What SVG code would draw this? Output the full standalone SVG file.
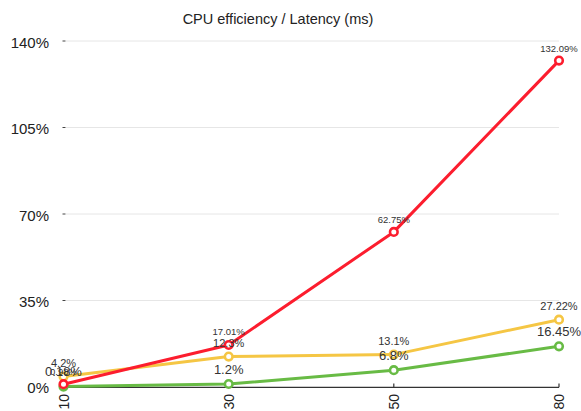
<svg xmlns="http://www.w3.org/2000/svg" width="581" height="411" viewBox="0 0 581 411">
  <style>
    text { font-family: "Liberation Sans", Arial, sans-serif; fill: #222; }
    .title { font-size: 14.5px; text-anchor: middle; }
    .ylab { font-size: 15px; text-anchor: end; }
    .xlab { font-size: 14px; text-anchor: end; }
    .grid { stroke: #e6e6e6; stroke-width: 1; }
    .ytick { stroke: #444; stroke-width: 1; }
    .axis { stroke: #333; stroke-width: 1.2; fill: none; }
    .line { fill: none; stroke-width: 3; stroke-linejoin: round; stroke-linecap: round; }
    .pt { fill: #fff; stroke-width: 2.6; }
    .red { stroke: #fc1d2e; }
    .yellow { stroke: #f5c644; }
    .green { stroke: #68bb45; }
    .lab { text-anchor: middle; fill: #333; }
    .lr { font-size: 9.5px; }
    .ly { font-size: 11px; }
    .lg { font-size: 13px; }
  </style>

  <text class="title" x="278" y="23.5">CPU efficiency / Latency (ms)</text>

  <!-- value axis -->
  <g id="y-axis">
    <line class="grid" x1="66" y1="41" x2="559" y2="41"/>
    <line class="grid" x1="66" y1="127.5" x2="559" y2="127.5"/>
    <line class="grid" x1="66" y1="214" x2="559" y2="214"/>
    <line class="grid" x1="66" y1="300.5" x2="559" y2="300.5"/>
    <line class="ytick" x1="62.5" y1="41" x2="65.5" y2="41"/>
    <line class="ytick" x1="62.5" y1="127.5" x2="65.5" y2="127.5"/>
    <line class="ytick" x1="62.5" y1="214" x2="65.5" y2="214"/>
    <line class="ytick" x1="62.5" y1="300.5" x2="65.5" y2="300.5"/>
    <text class="ylab" x="49" y="47.5">140%</text>
    <text class="ylab" x="49" y="134">105%</text>
    <text class="ylab" x="49" y="220.5">70%</text>
    <text class="ylab" x="49" y="307">35%</text>
    <text class="ylab" x="49" y="393">0%</text>
  </g>

  <!-- category axis -->
  <g id="x-axis">
    <path class="axis" d="M63.5 387.3 H559 M228.7 387.3 V383.5 M393.8 387.3 V383.5 M559 387.3 V383.5"/>
    <text class="xlab" transform="translate(68.5 394) rotate(-90)">10</text>
    <text class="xlab" transform="translate(233.7 394) rotate(-90)">30</text>
    <text class="xlab" transform="translate(398.8 394) rotate(-90)">50</text>
    <text class="xlab" transform="translate(564 394) rotate(-90)">80</text>
  </g>

  <!-- series -->
  <g id="connectors">
    <polyline class="line green" points="63.5,386.6 228.7,384 393.8,370.2 559,346.3"/>
    <polyline class="line yellow" points="63.5,376.6 228.7,356.6 393.8,354.6 559,319.7"/>
    <polyline class="line red" points="63.5,384.2 228.7,345 393.8,231.9 559,60.6"/>
  </g>

  <g id="series-green">
    <circle class="pt green" cx="63.5" cy="386.6" r="3.8"/>
    <circle class="pt green" cx="228.7" cy="384" r="3.8"/>
    <circle class="pt green" cx="393.8" cy="370.2" r="3.8"/>
    <circle class="pt green" cx="559" cy="346.3" r="3.8"/>
  </g>
  <g id="series-yellow">
    <circle class="pt yellow" cx="63.5" cy="376.6" r="3.8"/>
    <circle class="pt yellow" cx="228.7" cy="356.6" r="3.8"/>
    <circle class="pt yellow" cx="393.8" cy="354.6" r="3.8"/>
    <circle class="pt yellow" cx="559" cy="319.7" r="3.8"/>
  </g>
  <g id="series-red">
    <circle class="pt red" cx="63.5" cy="384.2" r="3.8"/>
    <circle class="pt red" cx="228.7" cy="345" r="3.8"/>
    <circle class="pt red" cx="393.8" cy="231.9" r="3.8"/>
    <circle class="pt red" cx="559" cy="60.6" r="3.8"/>
  </g>

  <!-- data labels -->
  <g id="labels">
    <text class="lab lg" x="63.5" y="376">0.18%</text>
    <text class="lab lg" x="228.7" y="373.5">1.2%</text>
    <text class="lab lg" x="393.8" y="359.7">6.8%</text>
    <text class="lab lg" x="559" y="335.8">16.45%</text>
    <text class="lab ly" x="63.5" y="367.3">4.2%</text>
    <text class="lab ly" x="228.7" y="347.4">12.3%</text>
    <text class="lab ly" x="393.8" y="345.3">13.1%</text>
    <text class="lab ly" x="559" y="310.3">27.22%</text>
    <text class="lab lr" x="63.5" y="375">0.98%</text>
    <text class="lab lr" x="228.7" y="335.3">17.01%</text>
    <text class="lab lr" x="393.8" y="222.6">62.75%</text>
    <text class="lab lr" x="559" y="51.5">132.09%</text>
  </g>
</svg>
